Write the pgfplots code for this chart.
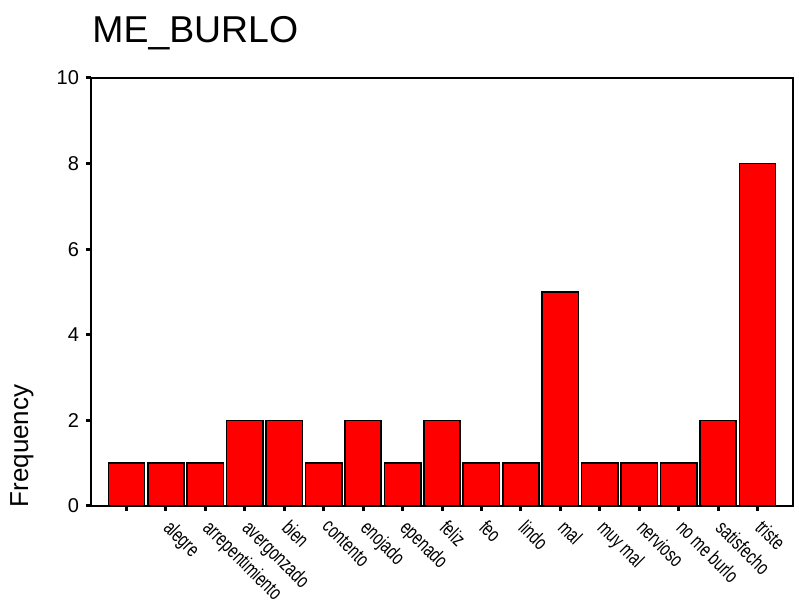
\documentclass[border=0pt]{standalone}
\usepackage{fontspec}
\setmainfont{Liberation Sans}
\usepackage{graphicx}
\usepackage{pgfplots}
\pgfplotsset{compat=1.18}
\newcommand\lab[1]{\scalebox{0.72}[1]{#1}}
\begin{document}
\begin{tikzpicture}[x=1pt,y=1pt]
\path[use as bounding box] (0,0) rectangle (399.5,302.5);
\begin{axis}[at={(45.5pt,49.5pt)}, anchor=south west, scale only axis,
  width=351pt, height=214pt,
  ymin=0, ymax=10, ytick={0,2,4,6,8,10},
  xmin=-0.9, xmax=16.9, xtick={0,...,16},
  xticklabels={,\lab{alegre},\lab{arrepentimiento},\lab{avergonzado},\lab{bien},\lab{contento},\lab{enojado},\lab{epenado},\lab{feliz},\lab{feo},\lab{lindo},\lab{mal},\lab{muy mal},\lab{nervioso},\lab{no me burlo},\lab{satisfecho},\lab{triste}},
  tick pos=left, tick align=outside, major tick length=2.5pt,
  tick style={line width=1.5pt, black},
  axis line style={line width=0.8pt},
  x tick label style={rotate=-45, anchor=north west, font=\fontsize{10.2}{12}\selectfont, xshift=4pt, yshift=1pt, inner sep=1pt},
  y tick label style={font=\fontsize{10}{12}\selectfont},
  /pgf/number format/assume math mode=true,
  ybar, bar width=0.92,
]
\addplot[fill=red, draw=black, line width=0.8pt] coordinates {
(0,1) (1,1) (2,1) (3,2) (4,2) (5,1) (6,2) (7,1) (8,2) (9,1) (10,1) (11,5) (12,1) (13,1) (14,1) (15,2) (16,8)};
\end{axis}
\node[anchor=base west, font=\fontsize{18.7}{22}\selectfont, inner sep=0pt] at (46,281) {ME\_BURLO};
\node[rotate=90, font=\fontsize{13}{15}\selectfont, inner sep=0pt] at (11,79.5) {Frequency};
\end{tikzpicture}
\end{document}
